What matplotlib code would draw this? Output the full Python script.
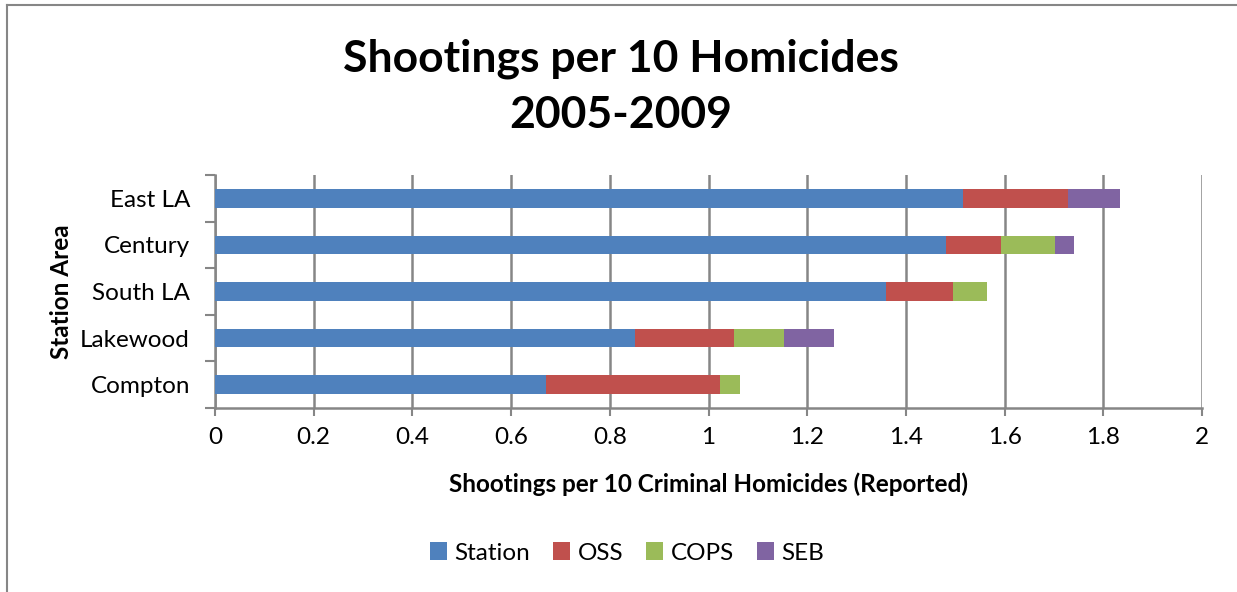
import matplotlib
matplotlib.use("Agg")
import matplotlib.pyplot as plt
import numpy as np
from matplotlib.lines import Line2D
from matplotlib.patches import Patch

plt.rcParams['font.family'] = ['Lato', 'DejaVu Sans']

categories = ["Compton", "Lakewood", "South LA", "Century", "East LA"]
station = [0.671, 0.852, 1.360, 1.482, 1.515]
oss = [0.352, 0.200, 0.136, 0.110, 0.2125]
cops = [0.040, 0.102, 0.068, 0.111, 0.0]
seb = [0.0, 0.100, 0.0, 0.037, 0.107]
series_names = ["Station", "OSS", "COPS", "SEB"]
colors = ["#4F81BD", "#C0504D", "#9BBB59", "#8064A2"]
xticks = [0, 0.2, 0.4, 0.6, 0.8, 1, 1.2, 1.4, 1.6, 1.8, 2]
xtick_labels = ["0", "0.2", "0.4", "0.6", "0.8", "1", "1.2", "1.4", "1.6", "1.8", "2"]

W, H = 1237, 592
fig = plt.figure(figsize=(W / 100, H / 100), dpi=100)
ax = fig.add_axes([215 / W, 1 - 408 / H, (1202 - 215) / W, (408 - 175) / H])

grid_c = "#868686"
y = np.arange(len(categories))
left = np.zeros(len(categories))
for vals, name, c in zip([station, oss, cops, seb], series_names, colors):
    ax.barh(y, vals, left=left, height=0.4, color=c, label=name, zorder=3)
    left = left + np.array(vals)

ax.set_xlim(0, 2)
ax.set_ylim(-0.5, len(categories) - 0.5)
ax.set_xticks(xticks)
ax.set_xticklabels(xtick_labels, fontsize=17.5)
ax.set_yticks(y)
ax.set_yticklabels(categories, fontsize=17.5)
ax.set_yticks(np.arange(-0.5, len(categories)), minor=True)
ax.tick_params(axis='y', which='major', length=0, pad=18)
ax.tick_params(axis='y', which='minor', length=7, width=1.5, color=grid_c, direction='out')
ax.tick_params(axis='x', which='major', length=6, width=1.5, color=grid_c, direction='out', pad=8)
ax.grid(axis='x', color=grid_c, linewidth=1.8, zorder=0)
for s in ['top', 'right']:
    ax.spines[s].set_visible(False)
for s in ['left', 'bottom']:
    ax.spines[s].set_color(grid_c)
    ax.spines[s].set_linewidth(1.8)

ax.set_xlabel("Shootings per 10 Criminal Homicides (Reported)", fontsize=17.5,
              fontweight='bold', labelpad=17)
ax.set_ylabel("Station Area", fontsize=17.5, fontweight='bold', labelpad=5)

fig.text(621 / W, 1 - 87 / H, "Shootings per 10 Homicides\n2005-2009", ha='center',
         va='center', fontsize=32, fontweight='bold', linespacing=1.5)

handles = [Patch(facecolor=c, edgecolor='none') for c in colors]
fig.legend(handles, series_names, loc='center', bbox_to_anchor=(627 / W, 1 - 553 / H),
           ncol=4, frameon=False, fontsize=17.5, handlelength=0.7, handleheight=0.7,
           handletextpad=0.3, columnspacing=0.95)

# outer chart border
fig.add_artist(Line2D([7 / W, 7 / W], [0, 1 - 5 / H], color="#868686", lw=1.5,
                      transform=fig.transFigure))
fig.add_artist(Line2D([7 / W, 1], [1 - 5 / H, 1 - 5 / H], color="#868686", lw=1.5,
                      transform=fig.transFigure))

fig.savefig("out.png", dpi=100, facecolor='white')
